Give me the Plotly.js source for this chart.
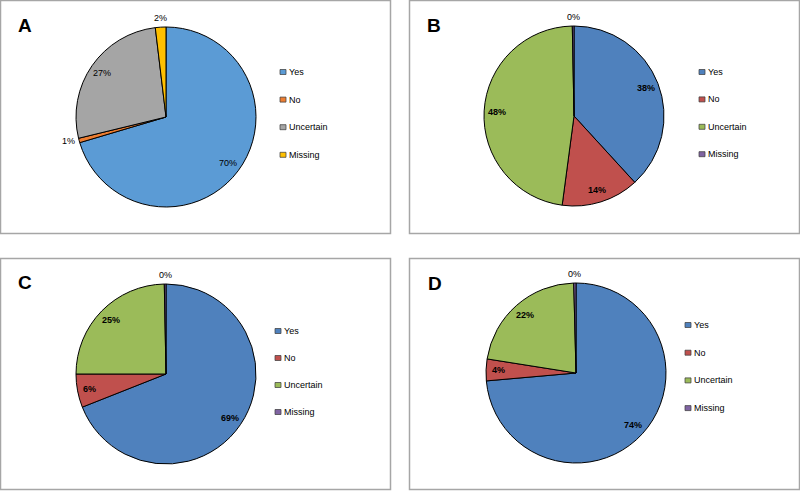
<!DOCTYPE html>
<html><head><meta charset="utf-8">
<script src="https://cdn.plot.ly/plotly-3.0.1.min.js"></script>
<style>html,body{margin:0;padding:0;background:#fff}#chart{width:800px;height:491px}</style>
</head><body><div id="chart"></div>
<script>
// ---- data ----
const categories = ['Yes', 'No', 'Uncertain', 'Missing'];
const panelLetters = ['A', 'B', 'C', 'D'];
const valuesA = [70.4, 0.8, 26.9, 1.9];
const valuesB = [38.2, 13.9, 47.6, 0.3];
const valuesC = [69.0, 6.0, 24.7, 0.3];
const valuesD = [73.6, 3.9, 22.1, 0.4];
const colorsA = ['#5B9BD5', '#ED7D31', '#A5A5A5', '#FFC000'];
const colorsBCD = ['#4F81BD', '#C0504D', '#9BBB59', '#8064A2'];

// ---- layout (pixels) ----
const W = 800, H = 491;
const FONT = 'Arial, "Liberation Sans", Helvetica, sans-serif';
const panels = [
  {values: valuesA, colors: colorsA, box: [0.5, 0.5, 390.5, 233.5], cx: 166, cy: 117, r: 90, letterPos: [17, 25], legend: [283, 72, 27.6], bold: false},
  {values: valuesB, colors: colorsBCD, box: [409.5, 0.5, 799.5, 233.5], cx: 574, cy: 116, r: 90, letterPos: [426, 25], legend: [702, 72, 27.4], bold: true},
  {values: valuesC, colors: colorsBCD, box: [0.5, 258.5, 390.5, 489.5], cx: 166, cy: 374, r: 90, letterPos: [17, 282], legend: [278, 331, 27.0], bold: true},
  {values: valuesD, colors: colorsBCD, box: [409.5, 258.5, 799.5, 489.5], cx: 576, cy: 373, r: 90, letterPos: [427, 283], legend: [688, 325, 27.7], bold: true}
];
const px = x => x / W;
const py = y => 1 - y / H;

const traces = [];
const shapes = [];
const annotations = [];

panels.forEach((p, i) => {
  traces.push({
    type: 'pie',
    labels: categories,
    values: p.values,
    sort: false,
    direction: 'clockwise',
    rotation: 0,
    textinfo: 'none',
    hoverinfo: 'label+percent',
    showlegend: false,
    marker: {colors: p.colors, line: {color: '#000000', width: 1}},
    domain: {x: [px(p.cx - p.r), px(p.cx + p.r)], y: [py(p.cy + p.r), py(p.cy - p.r)]}
  });

  // panel border
  shapes.push({type: 'rect', xref: 'paper', yref: 'paper',
    x0: px(p.box[0]), x1: px(p.box[2]), y0: py(p.box[3]), y1: py(p.box[1]),
    line: {color: '#a6a6a6', width: 1.5}, fillcolor: 'rgba(0,0,0,0)'});

  // panel letter
  annotations.push({xref: 'paper', yref: 'paper', x: px(p.letterPos[0]), y: py(p.letterPos[1]),
    xanchor: 'left', yanchor: 'middle', showarrow: false, borderpad: 0,
    text: '<b>' + panelLetters[i] + '</b>', font: {family: FONT, size: 19, color: '#000'}});

  // percent labels, placed from the slice angles
  const total = p.values.reduce((a, b) => a + b, 0);
  let cum = 0;
  p.values.forEach((v, k) => {
    const frac = v / total;
    const mid = (cum + frac / 2) * 2 * Math.PI;
    cum += frac;
    const s = Math.sin(mid), c = Math.cos(mid);
    const txt = Math.round(frac * 100) + '%';
    const font = {family: FONT, size: 9, color: '#000'};
    if (frac >= 0.03) {
      const rr = p.r * 0.86;
      annotations.push({xref: 'paper', yref: 'paper', x: px(p.cx + rr * s), y: py(p.cy - rr * c),
        xanchor: 'center', yanchor: 'middle', showarrow: false, borderpad: 0,
        text: p.bold ? '<b>' + txt + '</b>' : txt, font});
    } else {
      const rr = p.r + 3;
      const xa = Math.abs(s) < 0.3 ? 'center' : (s < 0 ? 'right' : 'left');
      const ya = c > 0.7 ? 'bottom' : (c < -0.7 ? 'top' : 'middle');
      annotations.push({xref: 'paper', yref: 'paper', x: px(p.cx + rr * s), y: py(p.cy - rr * c),
        xanchor: xa, yanchor: ya, showarrow: false, borderpad: 0, text: txt, font});
    }
  });

  // legend
  const [mx, my0, step] = p.legend;
  categories.forEach((cat, k) => {
    const my = my0 + k * step;
    shapes.push({type: 'rect', xref: 'paper', yref: 'paper',
      x0: px(mx - 3), x1: px(mx + 3), y0: py(my + 2.5), y1: py(my - 2.5),
      fillcolor: p.colors[k], line: {color: '#404040', width: 0.75}});
    annotations.push({xref: 'paper', yref: 'paper', x: px(mx + 5), y: py(my),
      xanchor: 'left', yanchor: 'middle', showarrow: false, borderpad: 0,
      text: cat, font: {family: FONT, size: 9, color: '#000'}});
  });
});

const layout = {
  width: W, height: H,
  margin: {l: 0, r: 0, t: 0, b: 0},
  paper_bgcolor: '#ffffff',
  plot_bgcolor: '#ffffff',
  showlegend: false,
  shapes, annotations
};
Plotly.newPlot('chart', traces, layout, {displayModeBar: false, staticPlot: true});
</script>
</body></html>
